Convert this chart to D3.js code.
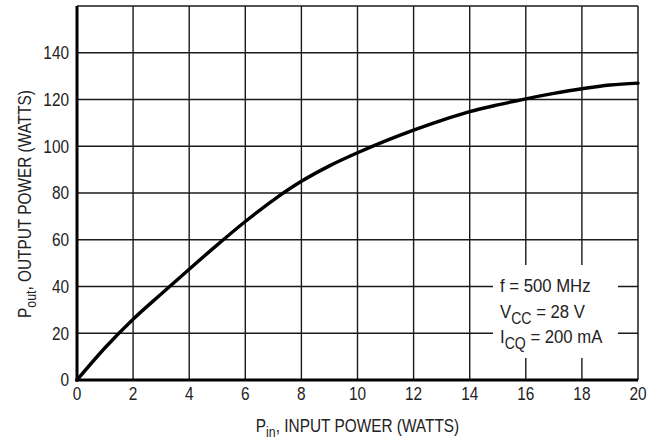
<!DOCTYPE html>
<html>
<head>
<meta charset="utf-8">
<script src="https://cdn.jsdelivr.net/npm/d3@7"></script>
<style>
  html, body { margin: 0; padding: 0; background: #fff; }
  svg { display: block; }
  text { font-family: "Liberation Sans", Arial, sans-serif; fill: #222; }
</style>
</head>
<body>
<svg id="chart" width="661" height="441"></svg>
<script>
// Data
const pinValues  = [0, 1, 2, 3, 4, 5, 6, 7, 8, 9, 10, 11, 12, 13, 14, 15, 16, 17, 18, 19, 20];
const poutValues = [0, 13.8, 26, 36.8, 47.4, 57.8, 67.8, 77, 85, 91.6, 97.2, 102.3, 106.9, 111.1, 114.8, 117.7, 120.3, 122.6, 124.6, 126.2, 127];
const xTicks = [0, 2, 4, 6, 8, 10, 12, 14, 16, 18, 20];
const yTicks = [0, 20, 40, 60, 80, 100, 120, 140];
const xDomain = [0, 20];
const yDomain = [0, 160];
const legendLines = [
  { main: "f = 500 MHz", sub: "", rest: "" },
  { main: "V", sub: "CC", rest: " = 28 V" },
  { main: "I", sub: "CQ", rest: " = 200 mA" }
];

const svg = d3.select("#chart");
const m = { left: 77, top: 6, right: 23, bottom: 61 };
const W = 661 - m.left - m.right;
const H = 441 - m.top - m.bottom;
const SX = 0.88; // horizontal condensing of the text

const x = d3.scaleLinear().domain(xDomain).range([0, W]);
const y = d3.scaleLinear().domain(yDomain).range([H, 0]);

const g = svg.append("g").attr("transform", `translate(${m.left},${m.top})`);

// grid lines
g.append("g").selectAll("line.v")
  .data(xTicks.filter(d => d > 0 && d < 20))
  .join("line")
  .attr("x1", d => x(d)).attr("x2", d => x(d))
  .attr("y1", 0).attr("y2", H)
  .attr("stroke", "#1a1a1a").attr("stroke-width", 1.4);

g.append("g").selectAll("line.h")
  .data(yTicks.filter(d => d > 0))
  .join("line")
  .attr("x1", 0).attr("x2", W)
  .attr("y1", d => y(d)).attr("y2", d => y(d))
  .attr("stroke", "#1a1a1a").attr("stroke-width", 1.4);

// top and right borders
g.append("line").attr("x1", 0).attr("x2", W).attr("y1", 0).attr("y2", 0)
  .attr("stroke", "#1a1a1a").attr("stroke-width", 1.5);
g.append("line").attr("x1", W).attr("x2", W).attr("y1", 0).attr("y2", H)
  .attr("stroke", "#1a1a1a").attr("stroke-width", 1.5);

// legend box (white background masking grid)
const lgX = 493 - m.left, lgY = 265 - m.top;
g.append("rect").attr("x", lgX).attr("y", lgY).attr("width", 125).attr("height", 93)
  .attr("fill", "#fff");

legendLines.forEach((l, i) => {
  const t = g.append("g")
    .attr("transform", `translate(${lgX + 7},${lgY + 27 + i * 25.5}) scale(${SX},1)`)
    .append("text").attr("x", 0).attr("y", 0).attr("font-size", 19);
  t.append("tspan").text(l.main);
  if (l.sub) {
    t.append("tspan").attr("dy", 6).attr("font-size", 16).text(l.sub);
    t.append("tspan").attr("dy", -6).text(l.rest);
  }
});

// axes (left & bottom thick lines)
g.append("line").attr("x1", 0).attr("x2", 0).attr("y1", 0).attr("y2", H + 1.5)
  .attr("stroke", "#000").attr("stroke-width", 3);
g.append("line").attr("x1", -1.5).attr("x2", W).attr("y1", H).attr("y2", H)
  .attr("stroke", "#000").attr("stroke-width", 3);

// tick labels
g.append("g").selectAll("g")
  .data(yTicks)
  .join("g")
  .attr("transform", d => `translate(-8,${y(d)}) scale(${SX},1)`)
  .append("text")
  .attr("dy", "0.36em")
  .attr("text-anchor", "end")
  .attr("font-size", 17.5)
  .text(d => d);

g.append("g").selectAll("g")
  .data(xTicks)
  .join("g")
  .attr("transform", d => `translate(${x(d)},${H + 20}) scale(${SX},1)`)
  .append("text")
  .attr("text-anchor", "middle")
  .attr("font-size", 17.5)
  .text(d => d);

// curve
const line = d3.line()
  .x((d, i) => x(pinValues[i]))
  .y(d => y(d))
  .curve(d3.curveMonotoneX);
g.append("path")
  .datum(poutValues)
  .attr("d", line)
  .attr("fill", "none")
  .attr("stroke", "#000")
  .attr("stroke-width", 3.4)
  .attr("stroke-linecap", "round");

// axis titles
const xt = svg.append("g")
  .attr("transform", `translate(${m.left + W / 2},432) scale(${SX},1)`)
  .append("text")
  .attr("text-anchor", "middle").attr("font-size", 17.5);
xt.append("tspan").text("P");
xt.append("tspan").attr("dy", 5).attr("font-size", 14).text("in");
xt.append("tspan").attr("dy", -5).text(", INPUT POWER (WATTS)");

const yt = svg.append("g")
  .attr("transform", `translate(31,204) rotate(-90) scale(${SX},1)`)
  .append("text")
  .attr("text-anchor", "middle").attr("font-size", 17.5);
yt.append("tspan").text("P");
yt.append("tspan").attr("dy", 5).attr("font-size", 14).text("out");
yt.append("tspan").attr("dy", -5).text(", OUTPUT POWER (WATTS)");
</script>
</body>
</html>
